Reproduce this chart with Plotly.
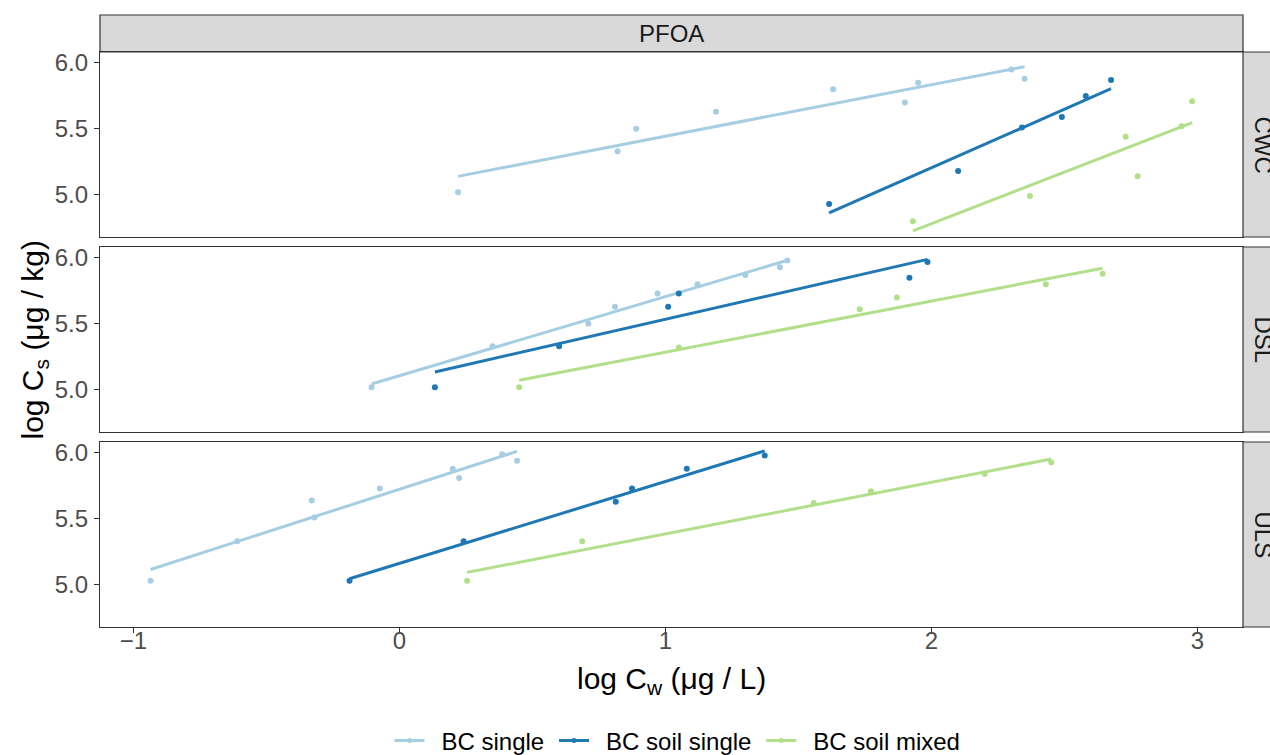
import numpy as np
import plotly.graph_objects as go
from plotly.subplots import make_subplots

series_names = ["BC single", "BC soil single", "BC soil mixed"]
series_colors = ["#a6cee3", "#1f78b4", "#b2df8a"]
panels = ["CWC", "DSL", "ULS"]
strip_top = "PFOA"

# CWC
cwc_single_x = [0.22, 0.82, 0.89, 1.19, 1.63, 1.90, 1.95, 2.30, 2.35]
cwc_single_y = [5.02, 5.33, 5.50, 5.63, 5.80, 5.70, 5.85, 5.95, 5.88]
cwc_soil_x = [1.615, 2.10, 2.34, 2.49, 2.58, 2.675]
cwc_soil_y = [4.93, 5.18, 5.51, 5.59, 5.75, 5.87]
cwc_mixed_x = [1.93, 2.37, 2.73, 2.775, 2.94, 2.98]
cwc_mixed_y = [4.80, 4.99, 5.44, 5.14, 5.52, 5.71]

# DSL
dsl_single_x = [-0.105, 0.35, 0.71, 0.81, 0.97, 1.12, 1.30, 1.43, 1.458]
dsl_single_y = [5.02, 5.33, 5.50, 5.63, 5.73, 5.80, 5.87, 5.93, 5.98]
dsl_soil_x = [0.133, 0.60, 1.01, 1.05, 1.917, 1.985]
dsl_soil_y = [5.02, 5.33, 5.63, 5.73, 5.85, 5.97]
dsl_mixed_x = [0.45, 1.05, 1.73, 1.87, 2.43, 2.643]
dsl_mixed_y = [5.02, 5.32, 5.61, 5.70, 5.80, 5.88]

# ULS
uls_single_x = [-0.936, -0.61, -0.33, -0.32, -0.074, 0.20, 0.224, 0.386, 0.442]
uls_single_y = [5.03, 5.33, 5.64, 5.51, 5.73, 5.88, 5.81, 5.99, 5.94]
uls_soil_x = [-0.188, 0.241, 0.813, 0.874, 1.08, 1.373]
uls_soil_y = [5.03, 5.33, 5.63, 5.73, 5.88, 5.98]
uls_mixed_x = [0.254, 0.687, 1.557, 1.772, 2.20, 2.45]
uls_mixed_y = [5.03, 5.33, 5.62, 5.71, 5.84, 5.93]

data = {
    "CWC": [(cwc_single_x, cwc_single_y), (cwc_soil_x, cwc_soil_y), (cwc_mixed_x, cwc_mixed_y)],
    "DSL": [(dsl_single_x, dsl_single_y), (dsl_soil_x, dsl_soil_y), (dsl_mixed_x, dsl_mixed_y)],
    "ULS": [(uls_single_x, uls_single_y), (uls_soil_x, uls_soil_y), (uls_mixed_x, uls_mixed_y)],
}

x_ticks = [-1, 0, 1, 2, 3]
y_ticks = [5.0, 5.5, 6.0]

W, H = 1270, 755
ml, mr, mt, mb = 100, 27, 52, 128
ph = H - mt - mb  # 575
pw = W - ml - mr

fig = make_subplots(rows=3, cols=1, shared_xaxes=True, vertical_spacing=10 / ph)

FONT = "Liberation Sans, Arial, sans-serif"

for r, panel in enumerate(panels, start=1):
    for s, (xs, ys) in enumerate(data[panel]):
        xs = np.array(xs); ys = np.array(ys)
        slope, icpt = np.polyfit(xs, ys, 1)
        lx = np.array([xs.min(), xs.max()])
        ly = slope * lx + icpt
        fig.add_trace(go.Scatter(
            x=lx, y=ly, mode="lines", line=dict(color=series_colors[s], width=3),
            name=series_names[s], showlegend=False, hoverinfo="skip"), row=r, col=1)
        fig.add_trace(go.Scatter(
            x=xs, y=ys, mode="markers", marker=dict(color=series_colors[s], size=6),
            name=series_names[s], showlegend=False), row=r, col=1)

# legend entries
for s in range(3):
    fig.add_trace(go.Scatter(
        x=[None], y=[None], mode="lines+markers",
        line=dict(color=series_colors[s], width=3),
        marker=dict(color=series_colors[s], size=5),
        name="\u2002" + series_names[s] + "\u2009", showlegend=True), row=1, col=1)

domains = [[390 / ph, 1.0], [195 / ph, 380 / ph], [0.0, 185 / ph]]
axis_common = dict(showgrid=False, zeroline=False, showline=True, linecolor="#333333",
                   linewidth=1.2, mirror=True, ticks="outside", ticklen=5,
                   tickcolor="#333333", tickwidth=1.2,
                   tickfont=dict(family=FONT, size=24, color="#4d4d4d"))
for r in range(1, 4):
    fig.update_yaxes(range=[4.68, 6.083], tickvals=y_ticks, ticktext=["5.0", "5.5", "6.0"],
                     domain=domains[r - 1], row=r, col=1, ticklabelstandoff=1, **axis_common)
    fig.update_xaxes(range=[-1.126, 3.171], tickvals=x_ticks, row=r, col=1,
                     showticklabels=(r == 3), ticklabelstandoff=-13, **axis_common)
fig.update_xaxes(ticks="", row=1, col=1)
fig.update_xaxes(ticks="", row=2, col=1)

shapes = []
annotations = []
# top strip
shapes.append(dict(type="rect", xref="paper", yref="paper", x0=0, x1=1, y0=1, y1=1 + 37 / ph,
                   fillcolor="#d9d9d9", line=dict(color="#333333", width=1.2), layer="below"))
annotations.append(dict(text=strip_top, xref="paper", yref="paper", x=0.5, y=1 + 18.5 / ph,
                        showarrow=False, font=dict(family=FONT, size=24, color="#1a1a1a"),
                        xanchor="center", yanchor="middle"))
# right strips
for r, panel in enumerate(panels):
    d0, d1 = domains[r]
    shapes.append(dict(type="rect", xref="paper", yref="paper", x0=1, x1=1 + 40 / pw,
                       y0=d0, y1=d1, fillcolor="#d9d9d9", line=dict(color="#333333", width=1.2)))
    annotations.append(dict(text=panel, xref="paper", yref="paper",
                            x=1 + 20 / pw, y=(d0 + d1) / 2, textangle=90,
                            showarrow=False, font=dict(family=FONT, size=24, color="#1a1a1a"),
                            xanchor="center", yanchor="middle"))
# axis titles
annotations.append(dict(text="log C<sub>w</sub> (μg / L)", xref="paper", yref="paper",
                        x=(671 - ml) / pw, y=-53 / ph, showarrow=False, xanchor="center",
                        yanchor="middle", font=dict(family=FONT, size=30, color="black")))
annotations.append(dict(text="log C<sub>s</sub> (μg / kg)", xref="paper", yref="paper",
                        x=-66 / pw, y=0.5, textangle=-90, showarrow=False,
                        xanchor="center", yanchor="middle",
                        font=dict(family=FONT, size=30, color="black")))

fig.update_layout(
    width=W, height=H, margin=dict(l=ml, r=mr, t=mt, b=mb, autoexpand=False),
    paper_bgcolor="white", plot_bgcolor="white",
    shapes=shapes, annotations=annotations,
    showlegend=True,
    legend=dict(orientation="h", x=(680 - ml) / pw, xanchor="center", y=-114 / ph,
                yanchor="middle", font=dict(family=FONT, size=24, color="black"),
                itemwidth=30, traceorder="normal"),
)

fig.write_html("out.html")
